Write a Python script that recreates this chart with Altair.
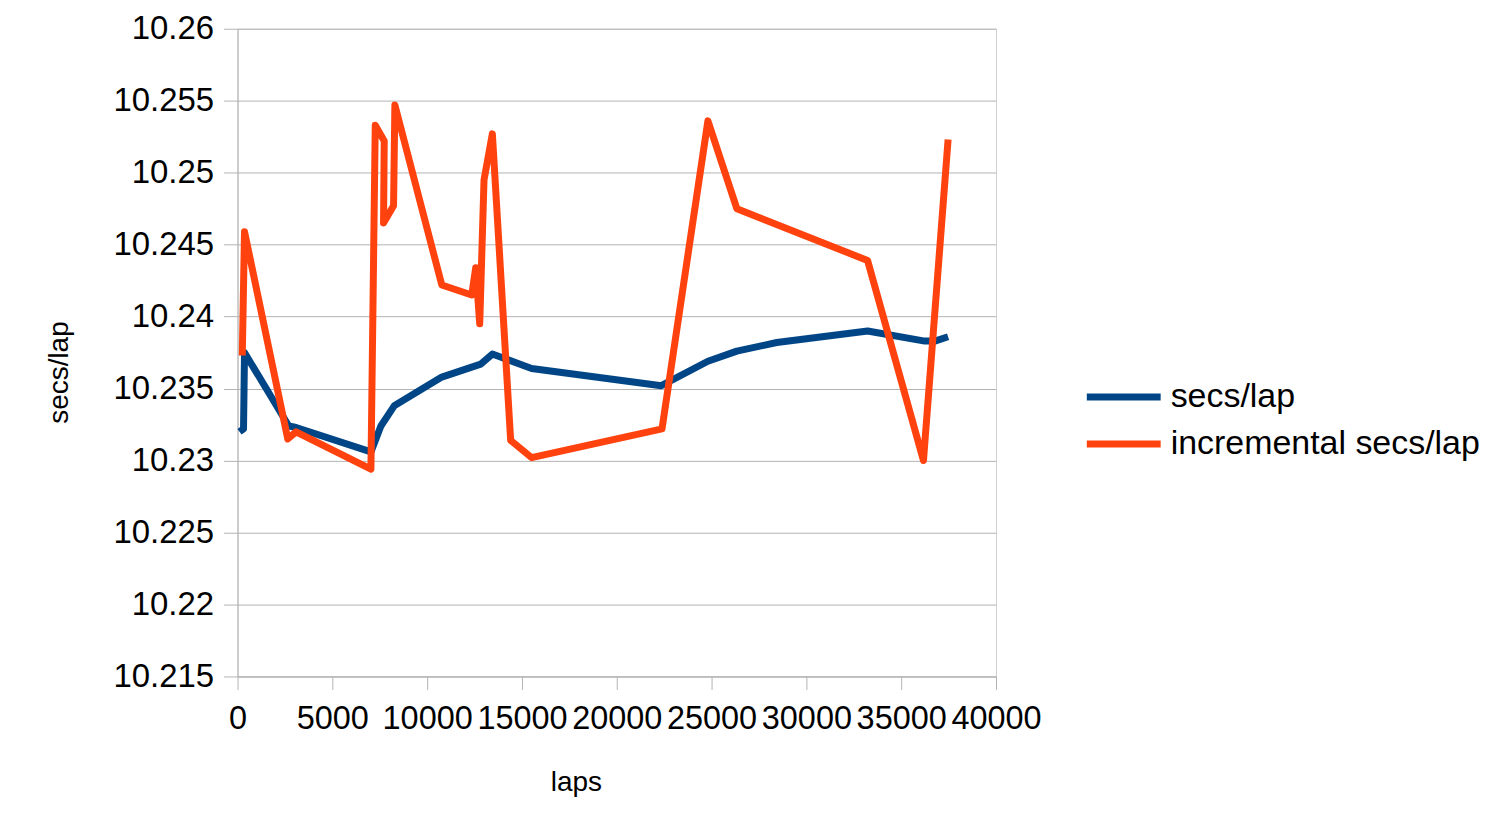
import altair as alt
import pandas as pd

# cumulative secs/lap
laps_cum = [105, 316, 368, 2702, 3088, 7035, 7561, 8263, 10772, 12825, 13439,
            15509, 22351, 24807, 26333, 28439, 33228, 36246, 36772, 37474]
secs_cum = [10.2320, 10.2322, 10.2375, 10.2324, 10.2323, 10.2306, 10.2324, 10.2338,
            10.2358, 10.2367, 10.2374, 10.2364, 10.2352, 10.2369, 10.2376, 10.2382,
            10.2390, 10.2383, 10.2383, 10.2386]

# incremental secs/lap
laps_inc = [250, 368, 2650, 3088, 7035, 7263, 7737, 7700, 8228, 8298, 10772,
            12351, 12561, 12772, 13000, 13439, 14404, 15509, 22386, 24807, 26333,
            33228, 36175, 37474]
secs_inc = [10.2373, 10.2459, 10.2315, 10.2320, 10.2294, 10.2533, 10.2522,
            10.2465, 10.2477, 10.2547, 10.2422, 10.2415, 10.2434, 10.2395, 10.2495,
            10.2527, 10.2314, 10.2302, 10.2322, 10.2536, 10.2475, 10.2439, 10.2300,
            10.2523]

series_names = ["secs/lap", "incremental secs/lap"]
series_colors = ["#004586", "#ff420e"]
x_ticks = [0, 5000, 10000, 15000, 20000, 25000, 30000, 35000, 40000]
y_ticks = [10.215, 10.22, 10.225, 10.23, 10.235, 10.24, 10.245, 10.25, 10.255, 10.26]

rows = []
for i, (l, s) in enumerate(zip(laps_cum, secs_cum)):
    rows.append({"series": series_names[0], "laps": l, "value": s, "idx": i})
for i, (l, s) in enumerate(zip(laps_inc, secs_inc)):
    rows.append({"series": series_names[1], "laps": l, "value": s, "idx": i})
df = pd.DataFrame(rows)

FONT = "Liberation Sans"

chart = alt.Chart(df).mark_line(strokeWidth=7, strokeJoin="round", strokeCap="butt").encode(
    x=alt.X("laps:Q",
            scale=alt.Scale(domain=[0, 40000], nice=False, zero=False),
            axis=alt.Axis(values=x_ticks, format="d", title="laps", grid=False,
                          domainColor="#b3b3b3", tickColor="#b3b3b3", tickSize=13,
                          labelFontSize=32.5, labelPadding=13, labelColor="#000000",
                          labelFont=FONT, labelOverlap=False, labelFlush=False,
                          titleFont=FONT, titleFontSize=28, titleFontWeight="normal",
                          titleColor="#000000", titleX=339, titleY=106,
                          titleBaseline="middle", titleAnchor="start", titleAlign="center")),
    y=alt.Y("value:Q",
            scale=alt.Scale(domain=[10.215, 10.26], nice=False, zero=False),
            axis=alt.Axis(values=y_ticks, format=".5~r", title="secs/lap",
                          gridColor="#b3b3b3", domainColor="#b3b3b3", tickColor="#b3b3b3",
                          tickSize=14, labelFontSize=33, labelPadding=10,
                          labelColor="#000000", labelFont=FONT, labelOverlap=False,
                          labelFlush=False,
                          titleFont=FONT, titleFontSize=28, titleFontWeight="normal",
                          titleColor="#000000", titleX=-178, titleY=344, titleAngle=270,
                          titleBaseline="middle", titleAlign="center", titleAnchor="start")),
    color=alt.Color("series:N",
                    scale=alt.Scale(domain=series_names, range=series_colors),
                    legend=alt.Legend(title=None, orient="none", legendX=866, legendY=347,
                                      symbolType="M-2,0H2", symbolSize=1369,
                                      symbolStrokeWidth=7, labelFontSize=34,
                                      labelFont=FONT, labelColor="#000000",
                                      labelOffset=25, rowPadding=8, padding=0,
                                      labelLimit=600)),
    order=alt.Order("idx:Q"),
).properties(
    width=760, height=649,
    autosize=alt.AutoSizeParams(type="none"),
    padding={"left": 230, "top": 20, "right": 490, "bottom": 120},
).configure_view(
    stroke="#d0d0d0", strokeWidth=1
)

chart.save("out.html", embed_options={"renderer": "svg", "actions": False})
